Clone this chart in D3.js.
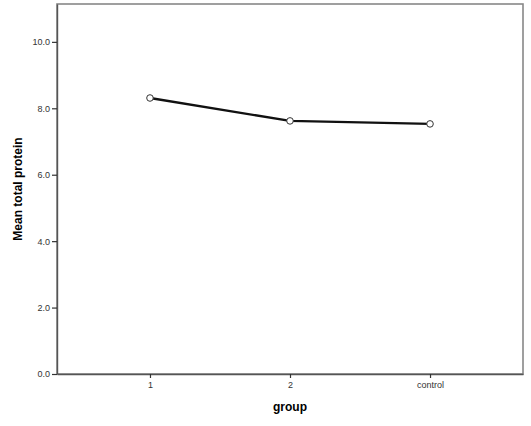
<!DOCTYPE html>
<html>
<head>
<meta charset="utf-8">
<script src="https://cdn.jsdelivr.net/npm/d3@7"></script>
<style>
  body { margin: 0; background: #fff; }
  text { font-family: "Liberation Sans", Arial, sans-serif; }
</style>
</head>
<body>
<script>
var groups = ["1", "2", "control"];
var meanProtein = [8.31, 7.62, 7.53];
var yTicks = [0, 2, 4, 6, 8, 10];

var margin = {top: 4, right: 8, bottom: 52, left: 57};
var width = 531 - margin.left - margin.right,
    height = 426 - margin.top - margin.bottom;

var svg = d3.select("body")
    .append("svg")
    .attr("width", 531)
    .attr("height", 426)
    .append("g")
    .attr("transform", "translate(" + margin.left + "," + margin.top + ")");

var x = d3.scalePoint()
    .domain(groups)
    .range([0, width])
    .padding(0.664);

var y = d3.scaleLinear()
    .domain([0, 11.14])
    .range([height, 0]);

// frame
svg.append("rect")
    .attr("x", 0)
    .attr("y", 0)
    .attr("width", width)
    .attr("height", height)
    .attr("fill", "none")
    .attr("stroke", "#888")
    .attr("stroke-width", 1.6);

// y axis
var yAxis = svg.append("g")
    .call(d3.axisLeft(y).tickValues(yTicks).tickSizeInner(5).tickSizeOuter(0)
        .tickPadding(2).tickFormat(d3.format(".1f")));
yAxis.select(".domain").attr("stroke", "#555").attr("stroke-width", 1.4);
yAxis.selectAll(".tick line").attr("stroke", "#333").attr("stroke-width", 1.2);
yAxis.selectAll(".tick text")
    .style("font-size", "9px")
    .attr("fill", "#333");

// x axis
var xAxis = svg.append("g")
    .attr("transform", "translate(0," + height + ")")
    .call(d3.axisBottom(x).tickSizeInner(4).tickSizeOuter(0).tickPadding(4));
xAxis.select(".domain").attr("stroke", "#555").attr("stroke-width", 1.4);
xAxis.selectAll(".tick line").attr("stroke", "#333").attr("stroke-width", 1.2);
xAxis.selectAll(".tick text")
    .style("font-size", "9px")
    .attr("fill", "#333");

// axis labels
svg.append("text")
    .attr("x", width / 2)
    .attr("y", height + 37)
    .style("text-anchor", "middle")
    .style("font-size", "12px")
    .style("font-weight", "bold")
    .text("group");

svg.append("text")
    .attr("transform", "rotate(-90)")
    .attr("x", -height / 2)
    .attr("y", -35)
    .style("text-anchor", "middle")
    .style("font-size", "12px")
    .style("font-weight", "bold")
    .text("Mean total protein");

// line
var data = groups.map(function(g, i) { return {group: g, value: meanProtein[i]}; });

svg.append("path")
    .datum(data)
    .attr("fill", "none")
    .attr("stroke", "#111")
    .attr("stroke-width", 2.4)
    .attr("d", d3.line()
        .x(function(d) { return x(d.group); })
        .y(function(d) { return y(d.value); }));

svg.selectAll(".dot")
    .data(data)
    .enter().append("circle")
    .attr("class", "dot")
    .attr("cx", function(d) { return x(d.group); })
    .attr("cy", function(d) { return y(d.value); })
    .attr("r", 3.3)
    .attr("fill", "#fff")
    .attr("stroke", "#333")
    .attr("stroke-width", 1);
</script>
</body>
</html>
